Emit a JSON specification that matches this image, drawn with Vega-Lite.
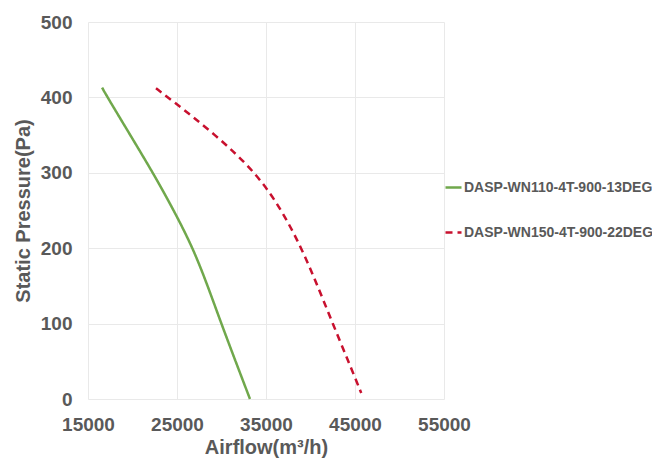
{
  "$schema": "https://vega.github.io/schema/vega-lite/v6.json",
  "width": 356,
  "height": 377,
  "autosize": "none",
  "padding": {"left": 88, "top": 22, "right": 208, "bottom": 62},
  "background": "white",
  "config": {
    "view": {"stroke": null},
    "font": "Liberation Sans",
    "axis": {
      "labelFont": "Liberation Sans",
      "titleFont": "Liberation Sans",
      "labelFontWeight": "bold",
      "titleFontWeight": "bold",
      "labelColor": "#595959",
      "titleColor": "#595959",
      "domain": false,
      "ticks": false,
      "gridColor": "#e9e9e9",
      "gridWidth": 1,
      "labelFlush": false,
      "labelOverlap": false
    },
    "legend": {"labelFont": "Liberation Sans"}
  },
  "data": {
    "values": [
      {"series": "DASP-WN110-4T-900-13DEG", "airflow": 16580, "pressure": 413},
      {"series": "DASP-WN110-4T-900-13DEG", "airflow": 17200, "pressure": 400},
      {"series": "DASP-WN110-4T-900-13DEG", "airflow": 19750, "pressure": 350},
      {"series": "DASP-WN110-4T-900-13DEG", "airflow": 22300, "pressure": 300},
      {"series": "DASP-WN110-4T-900-13DEG", "airflow": 24650, "pressure": 250},
      {"series": "DASP-WN110-4T-900-13DEG", "airflow": 26800, "pressure": 200},
      {"series": "DASP-WN110-4T-900-13DEG", "airflow": 28450, "pressure": 150},
      {"series": "DASP-WN110-4T-900-13DEG", "airflow": 29980, "pressure": 100},
      {"series": "DASP-WN110-4T-900-13DEG", "airflow": 31580, "pressure": 50},
      {"series": "DASP-WN110-4T-900-13DEG", "airflow": 33200, "pressure": 0},
      {"series": "DASP-WN150-4T-900-22DEG", "airflow": 22640, "pressure": 412},
      {"series": "DASP-WN150-4T-900-22DEG", "airflow": 24000, "pressure": 400},
      {"series": "DASP-WN150-4T-900-22DEG", "airflow": 29400, "pressure": 350},
      {"series": "DASP-WN150-4T-900-22DEG", "airflow": 33900, "pressure": 300},
      {"series": "DASP-WN150-4T-900-22DEG", "airflow": 36800, "pressure": 250},
      {"series": "DASP-WN150-4T-900-22DEG", "airflow": 39000, "pressure": 200},
      {"series": "DASP-WN150-4T-900-22DEG", "airflow": 40800, "pressure": 150},
      {"series": "DASP-WN150-4T-900-22DEG", "airflow": 42500, "pressure": 100},
      {"series": "DASP-WN150-4T-900-22DEG", "airflow": 44250, "pressure": 50},
      {"series": "DASP-WN150-4T-900-22DEG", "airflow": 45700, "pressure": 8}
    ]
  },
  "mark": {"type": "line", "interpolate": "basis", "strokeWidth": 2.5},
  "encoding": {
    "x": {
      "field": "airflow",
      "type": "quantitative",
      "scale": {"domain": [15000, 55000], "nice": false},
      "axis": {
        "values": [15000, 25000, 35000, 45000, 55000],
        "format": "d",
        "title": "Airflow(m³/h)",
        "labelFontSize": 19,
        "titleFontSize": 20,
        "labelPadding": 16,
        "titlePadding": 3
      }
    },
    "y": {
      "field": "pressure",
      "type": "quantitative",
      "scale": {"domain": [0, 500], "nice": false},
      "axis": {
        "values": [0, 100, 200, 300, 400, 500],
        "title": "Static Pressure(Pa)",
        "labelFontSize": 19,
        "titleFontSize": 20,
        "labelPadding": 16,
        "titlePadding": 7
      }
    },
    "color": {
      "field": "series",
      "type": "nominal",
      "scale": {
        "domain": ["DASP-WN110-4T-900-13DEG", "DASP-WN150-4T-900-22DEG"],
        "range": ["#70A84C", "#C8102E"]
      },
      "legend": {
        "title": null,
        "orient": "none",
        "legendX": 356,
        "legendY": 156,
        "symbolType": "stroke",
        "symbolSize": 256,
        "symbolStrokeWidth": 2.5,
        "labelFontSize": 14,
        "labelFontWeight": "bold",
        "labelColor": "#595959",
        "labelOffset": 1,
        "labelLimit": 300,
        "rowPadding": 28
      }
    },
    "strokeDash": {
      "field": "series",
      "type": "nominal",
      "scale": {
        "domain": ["DASP-WN110-4T-900-13DEG", "DASP-WN150-4T-900-22DEG"],
        "range": [[1, 0], [7, 5]]
      },
      "legend": null
    }
  }
}
